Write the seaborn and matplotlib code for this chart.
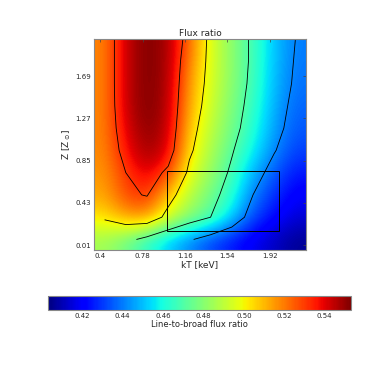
import numpy as np
import matplotlib
matplotlib.use("Agg")
import matplotlib.pyplot as plt
import seaborn as sns
from matplotlib.patches import Rectangle

sns.set_style("white")
plt.rcParams['font.family'] = ['DejaVu Sans']

# grid centres
kT = [0.44, 0.63, 0.82, 1.01, 1.20, 1.39, 1.58, 1.77, 1.96, 2.15]
Z = [0.066, 0.276, 0.486, 0.696, 0.906, 1.116, 1.326, 1.536, 1.746, 1.956]

# flux ratio values, rows = Z (bottom to top), cols = kT
ratio = [
    [0.485, 0.476, 0.464, 0.452, 0.442, 0.432, 0.425, 0.418, 0.412, 0.406],
    [0.502, 0.512, 0.514, 0.494, 0.480, 0.470, 0.452, 0.432, 0.422, 0.414],
    [0.512, 0.527, 0.531, 0.507, 0.488, 0.476, 0.462, 0.440, 0.428, 0.419],
    [0.515, 0.530, 0.540, 0.526, 0.496, 0.482, 0.467, 0.447, 0.434, 0.424],
    [0.517, 0.536, 0.548, 0.540, 0.503, 0.486, 0.4715, 0.456, 0.441, 0.430],
    [0.518, 0.540, 0.551, 0.544, 0.507, 0.489, 0.476, 0.461, 0.445, 0.434],
    [0.518, 0.543, 0.553, 0.546, 0.511, 0.492, 0.478, 0.464, 0.447, 0.436],
    [0.518, 0.544, 0.553, 0.547, 0.514, 0.494, 0.480, 0.466, 0.449, 0.438],
    [0.518, 0.544, 0.553, 0.548, 0.517, 0.495, 0.481, 0.467, 0.450, 0.439],
    [0.518, 0.544, 0.553, 0.548, 0.522, 0.495, 0.481, 0.467, 0.451, 0.440],
]
levels = [0.44, 0.47, 0.50, 0.53]
xticks = [0.4, 0.78, 1.16, 1.54, 1.92]
yticks = [0.01, 0.43, 0.85, 1.27, 1.69]
cbar_ticks = [0.42, 0.44, 0.46, 0.48, 0.50, 0.52, 0.54]
box_kT = [1.0, 2.0]
box_Z = [0.15, 0.75]
vmin, vmax = 0.403, 0.553

data = np.array(ratio)
cmap = matplotlib.colormaps['jet']

fig = plt.figure(figsize=(3.9, 3.9), dpi=100)
ax = fig.add_axes([94/390, 1-250/390, 212/390, 211/390])
dx = kT[1]-kT[0]
dz = Z[1]-Z[0]
ext = [kT[0]-dx/2, kT[-1]+dx/2, Z[0]-dz/2, Z[-1]+dz/2]
im = ax.imshow(data, origin='lower', extent=ext, cmap=cmap, vmin=vmin, vmax=vmax,
               interpolation='bicubic', aspect='auto')
# contour grid spans from the first cell centre up to the top edge
Zc = np.linspace(Z[0], ext[3], len(Z))
ax.contour(kT, Zc, data, levels=levels, colors='black', linewidths=0.6)
ax.add_patch(Rectangle((box_kT[0], box_Z[0]), box_kT[1]-box_kT[0], box_Z[1]-box_Z[0],
                       fill=False, edgecolor='black', linewidth=0.7))
ax.set_xlim(ext[0], ext[1])
ax.set_ylim(ext[2], ext[3])
ax.set_xticks(xticks)
ax.set_xticklabels([f"{v:g}" for v in xticks])
ax.set_yticks(yticks)
ax.set_yticklabels([f"{v:.2f}" for v in yticks])
ax.tick_params(direction='in', length=2.5, width=0.5, labelsize=5, pad=2,
               top=True, right=True, color='#444444')
for s in ax.spines.values():
    s.set_color('#888888')
    s.set_linewidth(0.8)
ax.set_title("Flux ratio", fontsize=6.5, pad=2)
ax.set_xlabel("kT [keV]", fontsize=6.5, labelpad=1)
ax.set_ylabel(r"Z [Z$_\odot$]", fontsize=6.5, labelpad=2)

cax = fig.add_axes([48/390, 1-310/390, 303/390, 14/390])
cb = fig.colorbar(im, cax=cax, orientation='horizontal', ticks=cbar_ticks)
cb.ax.set_xticklabels([f"{v:.2f}" for v in cbar_ticks])
cb.ax.tick_params(direction='in', length=2, width=0.5, labelsize=5, pad=2, color='#444444')
cb.outline.set_edgecolor('#888888')
cb.outline.set_linewidth(0.8)
cb.set_label("Line-to-broad flux ratio", fontsize=6, labelpad=1)

fig.savefig("out.png", dpi=100)
